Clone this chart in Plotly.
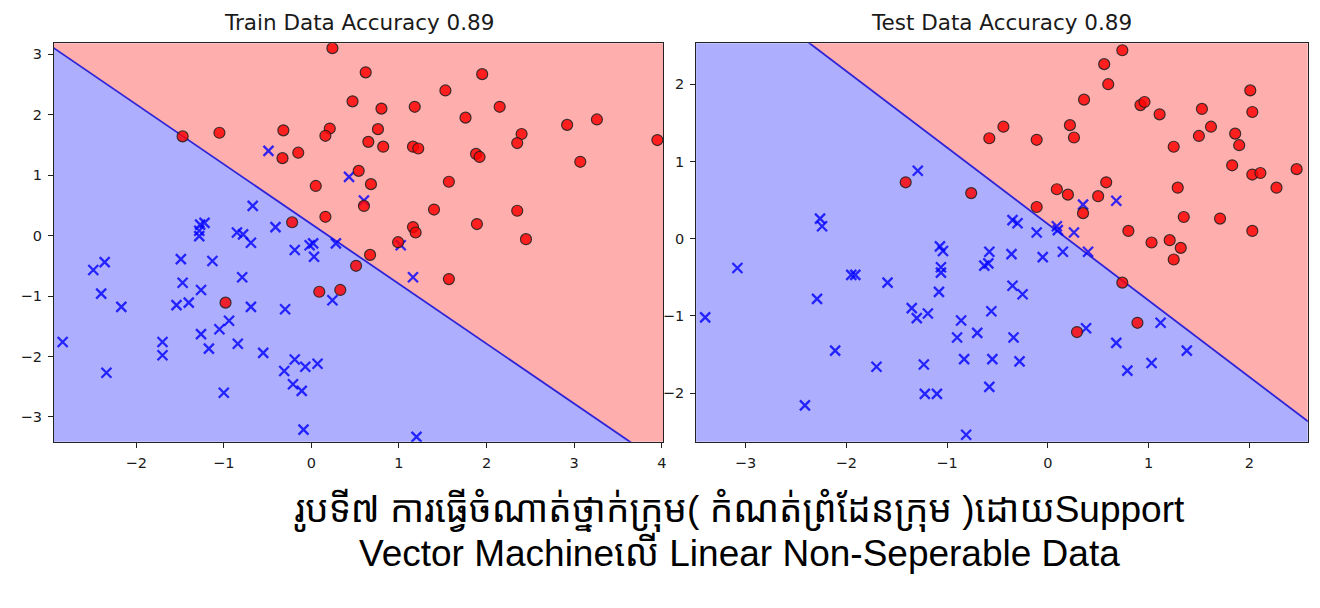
import numpy as np
import plotly.graph_objects as go

# ---------------- data ----------------
# Linear SVM decision function: w0*x + w1*y + b = 0
svm_w = [0.99, 1.0]
svm_b = -0.19

train_red_x = [-1.47, -1.05, -0.32, -0.33, -0.15, 0.21, 0.16, 0.24, 0.05, 0.16, -0.22,
               0.62, 1.95, 1.53, 0.47, 0.80, 1.18, 2.15, 1.76, 0.76, 0.65, 0.82, 1.16, 1.22,
               1.88, 1.92, 2.40, 2.35, 2.92, 3.26, 3.95, 3.07, 0.54, 0.68, 1.57, 0.60, 1.40,
               2.35, 1.89, 2.45, 1.16, 1.19, 0.99, 0.67, 0.51, 0.33, 1.57, -0.98, 0.09]
train_red_y = [1.64, 1.70, 1.74, 1.28, 1.37, 1.77, 1.65, 3.10, 0.82, 0.31, 0.22,
               2.70, 2.67, 2.40, 2.22, 2.10, 2.13, 2.13, 1.95, 1.76, 1.55, 1.47, 1.47, 1.44,
               1.35, 1.30, 1.68, 1.53, 1.83, 1.92, 1.58, 1.22, 1.07, 0.85, 0.89, 0.49, 0.43,
               0.41, 0.19, -0.06, 0.14, 0.05, -0.11, -0.32, -0.50, -0.90, -0.72, -1.11, -0.93]

train_blue_x = [-0.49, -0.67, -1.22, -1.27, -1.28, -1.28, -0.85, -0.78, -0.69, -0.41, -0.19,
                -0.02, 0.02, 0.03, 0.28, -2.49, -2.36, -2.40, -2.17, -2.84, -2.34, -1.70, -1.70,
                -1.49, -1.47, -1.54, -1.40, -1.26, -1.13, -1.26, -1.17, -1.05, -0.94, -0.84,
                -0.79, -0.69, -1.00, -0.55, -0.30, -0.19, -0.31, -0.07, 0.07, -0.21, -0.11,
                -0.09, 0.24, 1.02, 1.16, 1.20, 0.43, 0.60]
train_blue_y = [1.40, 0.49, 0.21, 0.18, 0.08, -0.01, 0.05, 0.02, -0.12, 0.14, -0.24,
                -0.16, -0.13, -0.35, -0.13, -0.57, -0.44, -0.96, -1.18, -1.76, -2.27, -1.76, -1.98,
                -0.39, -0.78, -1.15, -1.11, -0.90, -0.42, -1.63, -1.87, -1.55, -1.41, -1.79,
                -0.69, -1.18, -2.60, -1.94, -1.22, -2.05, -2.24, -2.17, -2.12, -2.46, -2.57,
                -3.21, -1.07, -0.16, -0.69, -3.33, 0.97, 0.58]

test_red_x = [-0.58, -1.41, -0.76, 0.74, 0.56, 0.60, 0.36, 0.92, 0.96, 1.11, 1.53, 2.01, 2.03,
              1.62, 1.50, 1.86, 1.90, 1.25, -0.44, -0.11, 0.22, 0.26, 1.83, 2.03, 2.11, 2.47,
              2.27, 1.29, 0.58, 0.09, 0.20, 0.50, -0.11, 0.35, 1.35, 1.71, 0.80, 2.03, 1.03,
              1.21, 1.32, 1.25, 0.74, 0.89, 0.29]
test_red_y = [1.30, 0.73, 0.59, 2.44, 2.26, 2.00, 1.80, 1.73, 1.77, 1.61, 1.68, 1.92, 1.64,
              1.45, 1.33, 1.36, 1.21, 1.19, 1.45, 1.28, 1.47, 1.31, 0.95, 0.83, 0.85, 0.90,
              0.66, 0.66, 0.73, 0.64, 0.57, 0.55, 0.41, 0.33, 0.28, 0.26, 0.10, 0.10, -0.05,
              -0.02, -0.12, -0.27, -0.57, -1.09, -1.21]

test_blue_x = [-1.29, -2.26, -2.24, -1.07, -0.58, 0.35, 0.68, -0.35, -0.30, -0.11, 0.09, 0.10,
               0.26, -0.36, -0.05, 0.15, 0.40, -0.59, -0.35, -0.25, -0.56, -0.34, -0.55, -0.28,
               -0.58, 0.38, 0.68, 0.79, 1.03, 1.12, 1.38, -3.08, -3.40, -2.29, -1.95, -1.91,
               -1.59, -2.11, -2.41, -1.70, -1.35, -1.30, -1.19, -1.23, -1.22, -1.10, -1.04,
               -1.06, -1.06, -1.08, -0.86, -0.90, -0.70, -0.83, -0.81, -0.63]
test_blue_y = [0.88, 0.26, 0.16, -0.10, -0.17, 0.44, 0.49, 0.24, 0.20, 0.08, 0.16, 0.11,
               0.08, -0.20, -0.24, -0.17, -0.17, -0.32, -0.61, -0.72, -0.94, -1.28, -1.56, -1.59,
               -1.92, -1.16, -1.35, -1.71, -1.61, -1.09, -1.45, -0.38, -1.02, -0.78, -0.47, -0.47,
               -0.57, -1.45, -2.16, -1.66, -0.90, -1.03, -0.97, -1.63, -2.01, -2.01, -0.16,
               -0.37, -0.44, -0.69, -1.06, -1.28, -1.22, -1.56, -2.54, -0.35]

titles = ["Train Data Accuracy 0.89", "Test Data Accuracy 0.89"]
caption_lines = ["រូបទី៧ ការធ្វើចំណាត់ថ្នាក់ក្រុម( កំណត់ព្រំដែនក្រុម )ដោយSupport",
                 "Vector Machineលើ Linear Non-Seperable Data"]

# ---------------- styling / layout ----------------
W, H = 1320, 608
x_ranges = [[-2.94, 4.02], [-3.49, 2.58]]
y_ranges = [[-3.41, 3.18], [-2.63, 2.53]]
x_domains = [[54 / W, 665 / W], [697.7 / W, 1310.7 / W]]
y_domain = [1 - 441.7 / H, 1 - 43.3 / H]

PINK = "#FFAEAE"
BLUE_BG = "#AEAEFF"
LINE_COL = "rgb(45,35,215)"

fig = go.Figure()


def boundary_y(x):
    x = np.asarray(x, dtype=float)
    return -(svm_w[0] * x + svm_b) / svm_w[1]


datasets = [(train_red_x, train_red_y, train_blue_x, train_blue_y),
            (test_red_x, test_red_y, test_blue_x, test_blue_y)]

for i, (rx, ry, bx, by) in enumerate(datasets):
    xa = "x" if i == 0 else "x2"
    ya = "y" if i == 0 else "y2"
    x0, x1 = x_ranges[i][0] - 5, x_ranges[i][1] + 5
    yl = y_ranges[i][0] - 50
    yh = y_ranges[i][1] + 50
    lx = np.array([x0, x1])
    ly = boundary_y(lx)
    # red region (above the line)
    fig.add_trace(go.Scatter(x=[x0, x0, x1, x1], y=[ly[0], yh, yh, ly[1]],
                             fill="toself", fillcolor=PINK, mode="lines",
                             line=dict(width=0, color=PINK), hoverinfo="skip",
                             showlegend=False, xaxis=xa, yaxis=ya))
    # blue region (below the line)
    fig.add_trace(go.Scatter(x=[x0, x0, x1, x1], y=[ly[0], yl, yl, ly[1]],
                             fill="toself", fillcolor=BLUE_BG, mode="lines",
                             line=dict(width=0, color=BLUE_BG), hoverinfo="skip",
                             showlegend=False, xaxis=xa, yaxis=ya))
    # boundary line
    fig.add_trace(go.Scatter(x=lx, y=ly, mode="lines",
                             line=dict(color=LINE_COL, width=1.8),
                             hoverinfo="skip", showlegend=False, xaxis=xa, yaxis=ya))
    # class 0: blue x
    fig.add_trace(go.Scatter(x=bx, y=by, mode="markers",
                             marker=dict(symbol="x-thin", size=10,
                                         line=dict(width=2.3, color="rgba(0,0,255,0.8)")),
                             showlegend=False, xaxis=xa, yaxis=ya))
    # class 1: red circles
    fig.add_trace(go.Scatter(x=rx, y=ry, mode="markers",
                             marker=dict(symbol="circle", size=11,
                                         color="rgba(255,0,0,0.82)",
                                         line=dict(width=1.2, color="rgba(30,30,30,0.85)")),
                             showlegend=False, xaxis=xa, yaxis=ya))

axis_common = dict(showgrid=False, zeroline=False, showline=True, mirror=True,
                   linecolor="#222", linewidth=1.2, ticks="outside", ticklen=5,
                   tickwidth=1, tickcolor="#222", dtick=1, ticklabelstandoff=3,
                   tickfont=dict(family="DejaVu Sans", size=14.5, color="#1a1a1a"))

fig.update_layout(
    width=W, height=H, margin=dict(l=0, r=0, t=0, b=0),
    paper_bgcolor="white", plot_bgcolor="white",
    xaxis=dict(domain=x_domains[0], range=x_ranges[0], anchor="y", **axis_common),
    yaxis=dict(domain=y_domain, range=y_ranges[0], anchor="x", **axis_common),
    xaxis2=dict(domain=x_domains[1], range=x_ranges[1], anchor="y2", **axis_common),
    yaxis2=dict(domain=y_domain, range=y_ranges[1], anchor="x2", **axis_common),
)

for i, t in enumerate(titles):
    fig.add_annotation(text=t, xref="paper", yref="paper",
                       x=(x_domains[i][0] + x_domains[i][1]) / 2, y=1 - 22 / H,
                       xanchor="center", yanchor="middle", showarrow=False,
                       font=dict(family="DejaVu Sans", size=21.5, color="#1a1a1a"))

cap_font = dict(family="Liberation Sans, Noto Sans Khmer, Khmer OS, sans-serif",
                size=37, color="black")
for j, (line, ypx) in enumerate(zip(caption_lines, [510, 553])):
    fig.add_annotation(text=line, xref="paper", yref="paper",
                       x=741 / W, y=1 - ypx / H, xanchor="center", yanchor="middle",
                       showarrow=False, font=cap_font)

fig.write_html("out.html")
